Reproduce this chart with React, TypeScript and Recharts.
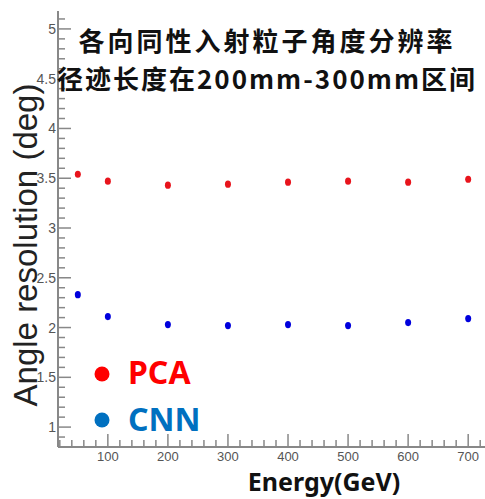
import React from "react"
import {
  ScatterChart,
  Scatter,
  XAxis,
  YAxis,
  Label
} from "recharts"

const energies = [50, 100, 200, 300, 400, 500, 600, 700]
const pcaRes = [3.54, 3.47, 3.43, 3.44, 3.46, 3.47, 3.46, 3.49]
const cnnRes = [2.33, 2.11, 2.03, 2.02, 2.03, 2.02, 2.05, 2.09]

const xMajor = [100, 200, 300, 400, 500, 600, 700]
const yMajor = [1, 1.5, 2, 2.5, 3, 3.5, 4, 4.5, 5]

const titleLines = ["各向同性入射粒子角度分辨率", "径迹长度在200mm-300mm区间"]

const pcaData = energies.map((e, i) => ({ energy: e, res: pcaRes[i] }))
const cnnData = energies.map((e, i) => ({ energy: e, res: cnnRes[i] }))

// minor ticks every 20 GeV / 0.1 deg, majors get a label
const xTicks = Array.from({ length: 36 }, (_, i) => 20 + i * 20)
const yTicks = Array.from({ length: 43 }, (_, i) => Math.round((0.9 + i * 0.1) * 10) / 10)

const AXIS = "#888"
const TICK_FONT = "'Liberation Sans Narrow', 'Liberation Sans', sans-serif"

const XTick = ({ x, y, payload }: any) => {
  const major = xMajor.includes(payload.value)
  return (
    <g>
      <line x1={x} y1={y} x2={x} y2={y - (major ? 13 : 7)} stroke={AXIS} strokeWidth={1.5} />
      {major && (
        <text x={x} y={y + 14} textAnchor="middle" fontSize={13} fill="#555" fontFamily={TICK_FONT}>
          {payload.value}
        </text>
      )}
    </g>
  )
}

const YTick = ({ x, y, payload }: any) => {
  const major = yMajor.some((v) => Math.abs(v - payload.value) < 1e-6)
  return (
    <g>
      <line x1={x} y1={y} x2={x + (major ? 13 : 7)} y2={y} stroke={AXIS} strokeWidth={1.5} />
      {major && (
        <text x={x - 2} y={y + 5} textAnchor="end" fontSize={14} fill="#555" fontFamily={TICK_FONT}>
          {payload.value}
        </text>
      )}
    </g>
  )
}

const Dot = (color: string) => (props: any) => (
  <ellipse cx={props.cx} cy={props.cy} rx={3} ry={3.6} fill={color} />
)

export default function App() {
  return (
    <div style={{ position: "absolute", left: 0, top: 0, width: 485, height: 499, background: "#fff" }}>
      <ScatterChart width={485} height={499} margin={{ top: 11, right: 0, bottom: 0, left: 0 }}>
        <XAxis
          xAxisId="top"
          orientation="top"
          type="number"
          dataKey="energy"
          domain={[17, 728]}
          height={0}
          tick={false}
          tickLine={false}
          axisLine={{ stroke: "#999", strokeWidth: 2 }}
        />
        <XAxis
          type="number"
          dataKey="energy"
          domain={[17, 728]}
          ticks={xTicks}
          interval={0}
          height={52}
          tickSize={0}
          tickMargin={0}
          tickLine={false}
          tick={<XTick />}
          axisLine={{ stroke: AXIS, strokeWidth: 2 }}
        >
          <Label
            content={() => (
              <text x={324} y={491} textAnchor="middle" fontSize={25} fontWeight="bold" fill="#111" fontFamily="'Noto Sans', sans-serif">
                Energy(GeV)
              </text>
            )}
          />
        </XAxis>
        <YAxis
          type="number"
          dataKey="res"
          domain={[0.8, 5.18]}
          ticks={yTicks}
          interval={0}
          width={58}
          tickSize={0}
          tickMargin={0}
          tickLine={false}
          tick={<YTick />}
          axisLine={{ stroke: AXIS, strokeWidth: 2 }}
        >
          <Label
            content={() => (
              <text x={37} y={245} transform="rotate(-90, 37, 245)" textAnchor="middle" fontSize={33} fill="#222" fontFamily="'Liberation Sans', sans-serif">
                Angle resolution (deg)
              </text>
            )}
          />
        </YAxis>
        <Scatter name="PCA" data={pcaData} fill="#e8141c" shape={Dot("#e8141c")} isAnimationActive={false} />
        <Scatter name="CNN" data={cnnData} fill="#0000dd" shape={Dot("#0000dd")} isAnimationActive={false} />
      </ScatterChart>
      <svg width={485} height={499} style={{ position: "absolute", left: 0, top: 0, pointerEvents: "none" }}>
        <text x={267} y={51} textAnchor="middle" fontSize={26} fontWeight="bold" letterSpacing={3} fill="#111" fontFamily="'Noto Sans CJK SC', sans-serif">
          {titleLines[0]}
        </text>
        <text x={267} y={89} textAnchor="middle" fontSize={26} fontWeight="bold" letterSpacing={2} fill="#111" fontFamily="'Noto Sans CJK SC', sans-serif">
          {titleLines[1]}
        </text>
        <circle cx={102} cy={374} r={7.5} fill="#ff0000" />
        <text x={128} y={384} fontSize={32} fontWeight="bold" fill="#ff0000" fontFamily="'Noto Sans', sans-serif">PCA</text>
        <circle cx={102} cy={420} r={7.5} fill="#0070c0" />
        <text x={128} y={431} fontSize={32} fontWeight="bold" fill="#0070c0" fontFamily="'Noto Sans', sans-serif">CNN</text>
      </svg>
    </div>
  )
}
